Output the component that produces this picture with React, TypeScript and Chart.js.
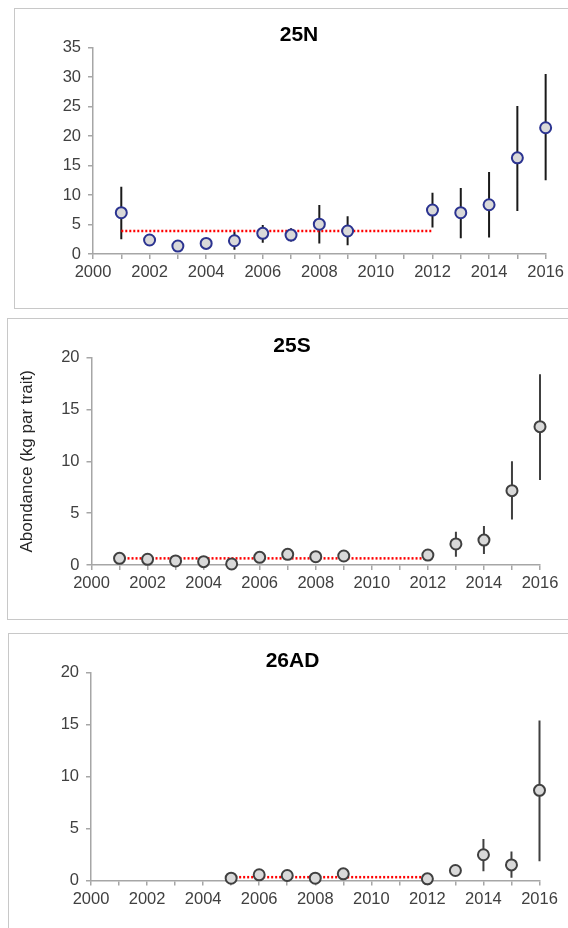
import React, { useEffect, useRef } from 'react';
import { Chart, registerables } from 'chart.js';

Chart.register(...registerables);

const FONT = "'Liberation Sans', Arial, Helvetica, sans-serif";

// ---------- shared axis data ----------
const X_MIN = 2000;
const X_MAX = 2016;
const X_TICK_LABELS = ['2000', '2002', '2004', '2006', '2008', '2010', '2012', '2014', '2016'];
const Y_AXIS_TITLE = 'Abondance (kg par trait)';

// ---------- 25N ----------
const TITLE_25N = '25N';
const Y_MAX_25N = 35;
const YEARS_25N = [2001, 2002, 2003, 2004, 2005, 2006, 2007, 2008, 2009, 2012, 2013, 2014, 2015, 2016];
const MEAN_25N = [7.0, 2.37, 1.35, 1.8, 2.25, 3.5, 3.2, 5.05, 3.9, 7.45, 7.0, 8.35, 16.3, 21.4];
const LOW_25N = [2.5, null, null, null, 0.7, 1.9, 2.1, 1.8, 1.5, 4.5, 2.65, 2.8, 7.3, 12.5];
const HIGH_25N = [11.4, null, null, null, 3.8, 4.9, 4.35, 8.3, 6.4, 10.4, 11.2, 13.9, 25.1, 30.5];
const REF_YEARS_25N = [2001, 2012];
const REF_LEVEL_25N = [3.9, 3.9];

// ---------- 25S ----------
const TITLE_25S = '25S';
const Y_MAX_25S = 20;
const YEARS_25S = [2001, 2002, 2003, 2004, 2005, 2006, 2007, 2008, 2009, 2012, 2013, 2014, 2015, 2016];
const MEAN_25S = [0.64, 0.55, 0.39, 0.32, 0.1, 0.74, 1.03, 0.8, 0.87, 0.96, 2.03, 2.4, 7.17, 13.35];
const LOW_25S = [null, null, null, null, null, null, null, null, null, null, 0.8, 1.06, 4.4, 8.2];
const HIGH_25S = [null, null, null, null, null, null, null, null, null, null, 3.2, 3.76, 10.0, 18.4];
const REF_YEARS_25S = [2001, 2012];
const REF_LEVEL_25S = [0.64, 0.64];

// ---------- 26AD ----------
const TITLE_26AD = '26AD';
const Y_MAX_26AD = 20;
const YEARS_26AD = [2005, 2006, 2007, 2008, 2009, 2012, 2013, 2014, 2015, 2016];
const MEAN_26AD = [0.22, 0.55, 0.48, 0.22, 0.64, 0.16, 0.96, 2.48, 1.5, 8.68];
const LOW_26AD = [null, null, null, null, 0.35, null, 0.48, 0.9, 0.26, 1.86];
const HIGH_26AD = [null, null, null, null, 1.13, null, 1.45, 4.0, 2.8, 15.4];
const REF_YEARS_26AD = [2005, 2012];
const REF_LEVEL_26AD = [0.32, 0.32];

type Num = number | null;

function toPoints(xs: number[], ys: Num[]) {
  return xs.map((x, i) => ({ x, y: ys[i] }));
}

function errorSegments(xs: number[], low: Num[], high: Num[]) {
  const pts: { x: number; y: number | null }[] = [];
  xs.forEach((x, i) => {
    if (low[i] == null || high[i] == null) return;
    pts.push({ x, y: low[i] }, { x, y: high[i] }, { x, y: null });
  });
  return pts;
}

interface PanelCfg {
  top: number;
  height: number;
  padTop: number;
  padRight: number;
  yWidth: number;
  xHeight: number;
  yMax: number;
  years: number[];
  mean: Num[];
  low: Num[];
  high: Num[];
  refYears: number[];
  refLevel: number[];
  markerBorder: string;
  barColor: string;
  yTitle?: string;
}

const AXIS_COLOR = '#a6a6a6';
const TICK_COLOR = '#404040';

function ChartPanel({ cfg }: { cfg: PanelCfg }) {
  const ref = useRef<HTMLCanvasElement | null>(null);
  useEffect(() => {
    if (!ref.current) return;
    const chart = new Chart(ref.current, {
      type: 'scatter',
      data: {
        datasets: [
          {
            label: 'mean',
            data: toPoints(cfg.years, cfg.mean),
            pointRadius: 5.5,
            pointBackgroundColor: '#d9d9d9',
            pointBorderColor: cfg.markerBorder,
            pointBorderWidth: 2,
            showLine: false,
            clip: false,
            order: 0,
          } as any,
          {
            label: 'ref',
            data: toPoints(cfg.refYears, cfg.refLevel),
            showLine: true,
            borderColor: '#ff0000',
            borderWidth: 2.5,
            borderDash: [2, 2],
            pointRadius: 0,
            clip: false,
            order: 1,
          } as any,
          {
            label: 'ci',
            data: errorSegments(cfg.years, cfg.low, cfg.high),
            showLine: true,
            spanGaps: false,
            borderColor: cfg.barColor,
            borderWidth: 2,
            pointRadius: 0,
            clip: false,
            order: 2,
          } as any,
        ],
      },
      options: {
        animation: false,
        responsive: false,
        devicePixelRatio: 1,
        events: [],
        layout: { padding: { top: cfg.padTop, right: cfg.padRight, left: 0, bottom: 0 } },
        plugins: {
          legend: { display: false },
          tooltip: { enabled: false },
          title: { display: false },
        },
        scales: {
          x: {
            type: 'linear',
            min: X_MIN,
            max: X_MAX,
            afterFit: (s: any) => {
              s.height = cfg.xHeight;
            },
            grid: {
              display: true,
              drawOnChartArea: false,
              drawTicks: true,
              tickLength: 5,
              color: AXIS_COLOR,
              lineWidth: 1.5,
            },
            border: { display: true, color: AXIS_COLOR, width: 1.5 },
            ticks: {
              stepSize: 1,
              autoSkip: false,
              maxRotation: 0,
              padding: 4,
              color: TICK_COLOR,
              font: { family: FONT, size: 16.5 },
              callback: (v: any) => {
                const s = String(v);
                return X_TICK_LABELS.includes(s) ? s : '';
              },
            },
          },
          y: {
            type: 'linear',
            min: 0,
            max: cfg.yMax,
            afterFit: (s: any) => {
              s.width = cfg.yWidth;
            },
            grid: {
              display: true,
              drawOnChartArea: false,
              drawTicks: true,
              tickLength: 5,
              color: AXIS_COLOR,
              lineWidth: 1.5,
            },
            border: { display: true, color: AXIS_COLOR, width: 1.5 },
            ticks: {
              stepSize: 5,
              padding: 7,
              color: TICK_COLOR,
              font: { family: FONT, size: 16.5 },
            },
            title: {
              display: !!cfg.yTitle,
              text: cfg.yTitle || '',
              color: '#262626',
              font: { family: FONT, size: 17 },
              padding: { top: 16.8, bottom: 0 },
            },
          },
        },
      } as any,
    });
    return () => chart.destroy();
  }, []);
  return (
    <canvas
      ref={ref}
      width={568}
      height={cfg.height}
      style={{ position: 'absolute', left: 0, top: cfg.top, width: 568, height: cfg.height }}
    />
  );
}

const PANELS: PanelCfg[] = [
  {
    top: 0, height: 312, padTop: 47.5, padRight: 22, yWidth: 93, xHeight: 58, yMax: Y_MAX_25N,
    years: YEARS_25N, mean: MEAN_25N, low: LOW_25N, high: HIGH_25N,
    refYears: REF_YEARS_25N, refLevel: REF_LEVEL_25N,
    markerBorder: '#2b3390', barColor: '#1a1a1a',
  },
  {
    top: 312, height: 308, padTop: 45.7, padRight: 28, yWidth: 91.5, xHeight: 55, yMax: Y_MAX_25S,
    years: YEARS_25S, mean: MEAN_25S, low: LOW_25S, high: HIGH_25S,
    refYears: REF_YEARS_25S, refLevel: REF_LEVEL_25S,
    markerBorder: '#404040', barColor: '#404040', yTitle: Y_AXIS_TITLE,
  },
  {
    top: 622, height: 306, padTop: 50.7, padRight: 28.5, yWidth: 91, xHeight: 47.5, yMax: Y_MAX_26AD,
    years: YEARS_26AD, mean: MEAN_26AD, low: LOW_26AD, high: HIGH_26AD,
    refYears: REF_YEARS_26AD, refLevel: REF_LEVEL_26AD,
    markerBorder: '#404040', barColor: '#404040',
  },
];

const TITLES = [
  { text: TITLE_25N, cx: 299, cy: 33.5 },
  { text: TITLE_25S, cx: 292, cy: 345 },
  { text: TITLE_26AD, cx: 292.5, cy: 660 },
];

const BOXES = [
  { left: 14, top: 8, width: 600, height: 301 },
  { left: 7, top: 318, width: 600, height: 302 },
  { left: 8, top: 633, width: 600, height: 400 },
];

export default function App() {
  return (
    <div
      style={{
        position: 'absolute',
        left: 0,
        top: 0,
        width: 568,
        height: 928,
        overflow: 'hidden',
        background: '#ffffff',
      }}
    >
      {BOXES.map((b, i) => (
        <div
          key={'b' + i}
          style={{
            position: 'absolute',
            left: b.left,
            top: b.top,
            width: b.width,
            height: b.height,
            border: '1px solid #c8c8c8',
            boxSizing: 'border-box',
          }}
        />
      ))}
      {PANELS.map((p, i) => (
        <ChartPanel key={'c' + i} cfg={p} />
      ))}
      {TITLES.map((t, i) => (
        <div
          key={'t' + i}
          style={{
            position: 'absolute',
            left: t.cx - 100,
            top: t.cy - 12,
            width: 200,
            height: 24,
            lineHeight: '24px',
            textAlign: 'center',
            fontFamily: FONT,
            fontWeight: 'bold',
            fontSize: 21,
            color: '#000000',
          }}
        >
          {t.text}
        </div>
      ))}
    </div>
  );
}
